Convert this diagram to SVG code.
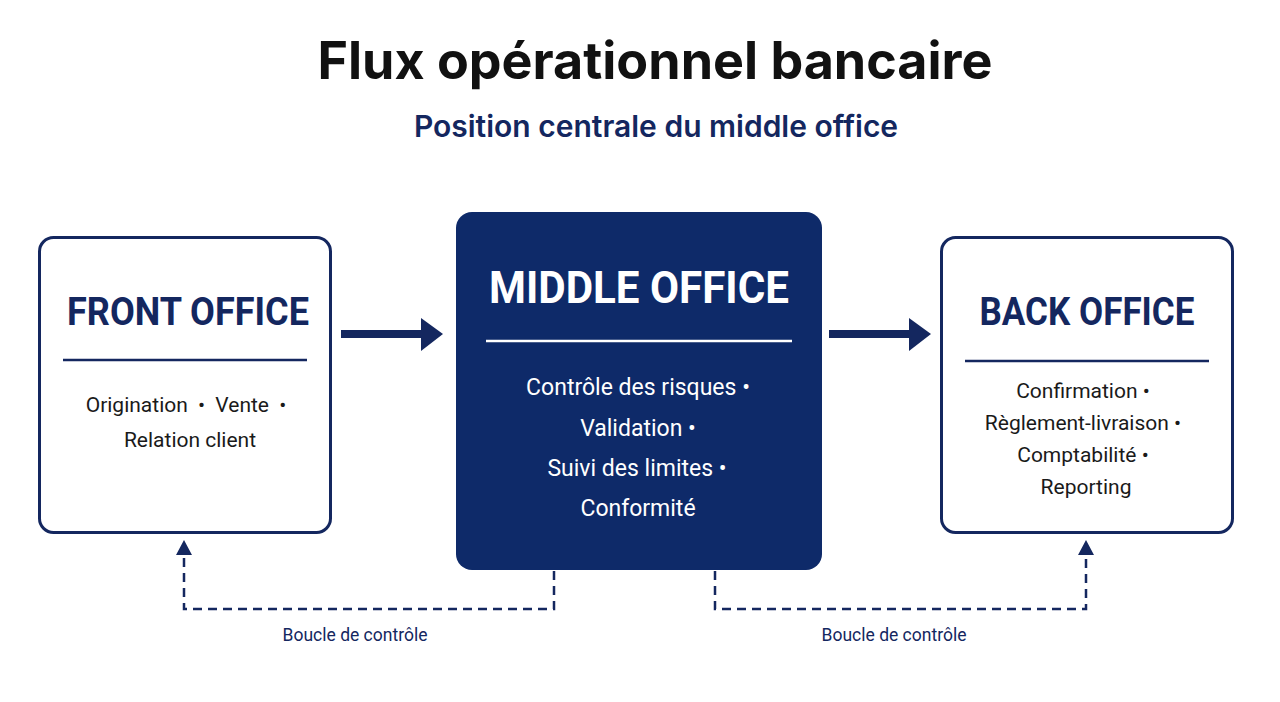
<svg xmlns="http://www.w3.org/2000/svg" width="1280" height="702" viewBox="0 0 1280 702">
<defs>
<style>
.title{font-family:Inter,"Liberation Sans",sans-serif;font-weight:700;font-size:52px;fill:#111;}
.sub{font-family:Inter,"Liberation Sans",sans-serif;font-weight:600;font-size:30px;fill:#14275f;}
.box{fill:#fff;stroke:#14275f;stroke-width:3;}
.mid{fill:#0e2a69;}
.head{font-family:Roboto,"Liberation Sans",sans-serif;font-weight:700;font-size:38px;fill:#14275f;}
.headw{font-family:Roboto,"Liberation Sans",sans-serif;font-weight:700;font-size:44px;fill:#fff;}
.txt{font-family:Roboto,"Liberation Sans",sans-serif;font-size:21px;fill:#1a1a1a;}
.txtw{font-family:Roboto,"Liberation Sans",sans-serif;font-size:23px;fill:#fff;}
.lbl{font-family:Roboto,"Liberation Sans",sans-serif;font-size:17.5px;fill:#14275f;}
.dash{fill:none;stroke:#14275f;stroke-width:2.5;stroke-dasharray:9,6;}
</style>
</defs>
<rect width="1280" height="702" fill="#fff"/>
<text class="title" x="655" y="79" text-anchor="middle">Flux opérationnel bancaire</text>
<text class="sub" x="656" y="137" text-anchor="middle">Position centrale du middle office</text>

<g id="front">
<rect class="box" x="39.500" y="237.500" width="291" height="295" rx="14"/>
<text class="head" x="188" y="325" text-anchor="middle" textLength="242" lengthAdjust="spacingAndGlyphs">FRONT OFFICE</text>
<line x1="63" y1="360" x2="307" y2="360" stroke="#14275f" stroke-width="2.5"/>
<text class="txt" x="186" y="412" text-anchor="middle" word-spacing="5">Origination • Vente •</text>
<text class="txt" x="190" y="447" text-anchor="middle">Relation client</text>
</g>

<g id="middle">
<rect class="mid" x="456" y="212" width="366" height="358" rx="16"/>
<text class="headw" x="639" y="303" text-anchor="middle" textLength="300" lengthAdjust="spacingAndGlyphs">MIDDLE OFFICE</text>
<line x1="486" y1="341" x2="792" y2="341" stroke="#fff" stroke-width="2.5"/>
<text class="txtw" x="638" y="395" text-anchor="middle">Contrôle des risques •</text>
<text class="txtw" x="638" y="436" text-anchor="middle">Validation •</text>
<text class="txtw" x="637" y="476" text-anchor="middle">Suivi des limites •</text>
<text class="txtw" x="638" y="516" text-anchor="middle">Conformité</text>
</g>

<g id="back">
<rect class="box" x="941.500" y="237.500" width="291" height="295" rx="14"/>
<text class="head" x="1087" y="325" text-anchor="middle" textLength="215" lengthAdjust="spacingAndGlyphs">BACK OFFICE</text>
<line x1="965" y1="361" x2="1209" y2="361" stroke="#14275f" stroke-width="2.5"/>
<text class="txt" x="1083" y="398" text-anchor="middle">Confirmation •</text>
<text class="txt" x="1083" y="430" text-anchor="middle">Règlement-livraison •</text>
<text class="txt" x="1083" y="462" text-anchor="middle">Comptabilité •</text>
<text class="txt" x="1086" y="494" text-anchor="middle">Reporting</text>
</g>

<g id="connectors">
<rect x="341" y="330" width="82" height="8" fill="#14275f"/>
<path d="M421,318 L443,334 L421,351 z" fill="#14275f"/>
<rect x="829" y="330" width="82" height="8" fill="#14275f"/>
<path d="M909,318 L931,334 L909,351 z" fill="#14275f"/>
<path class="dash" d="M554,571 L554,609 L184,609 L184,552"/>
<path d="M176,555 L184,540 L192,555 z" fill="#14275f"/>
<path class="dash" d="M715,571 L715,609 L1086,609 L1086,552"/>
<path d="M1078,555 L1086,540 L1094,555 z" fill="#14275f"/>
<text class="lbl" x="355" y="641" text-anchor="middle">Boucle de contrôle</text>
<text class="lbl" x="894" y="641" text-anchor="middle">Boucle de contrôle</text>
</g>
</svg>
